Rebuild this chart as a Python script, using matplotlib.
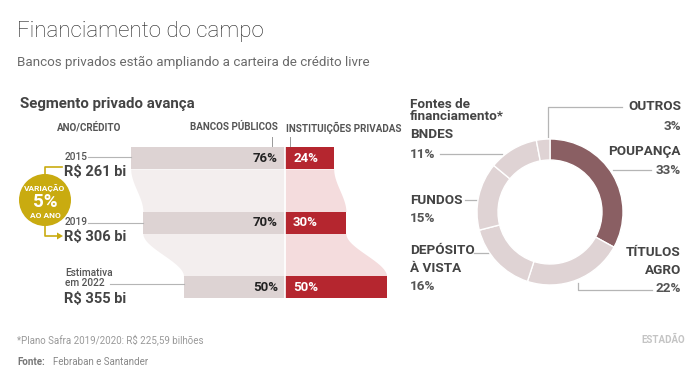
import numpy as np
import matplotlib
matplotlib.use("Agg")
import matplotlib.pyplot as plt
from matplotlib.patches import Circle, Polygon

plt.rcParams['font.family'] = ['Roboto', 'DejaVu Sans']

# data
years = ['2015', '2019', 'Estimativa\nem 2022']
credit = ['R$ 261 bi', 'R$ 306 bi', 'R$ 355 bi']
publicos = [76, 70, 50]
privados = [24, 30, 50]

fontes = ['POUPANÇA', 'TÍTULOS\nAGRO', 'DEPÓSITO\nÀ VISTA', 'FUNDOS', 'BNDES', 'OUTROS']
fontes_pct = [33, 22, 16, 15, 11, 3]

# colours
C_PUB = '#ddd3d3'
C_PUB_BAND = '#f3eeee'
C_PRIV = '#b5262f'
C_PRIV_BAND = '#f4dcdd'
C_DARK = '#8a5f63'
C_LIGHT = '#dfd3d4'
C_GOLD = '#c9ab10'
C_TXT = '#444444'
C_LINE = '#b5b5b5'

W, H = 700, 384
fig = plt.figure(figsize=(W / 100, H / 100), dpi=100)


def px_axes(x0, y0, x1, y1):
    return fig.add_axes([x0 / W, 1 - y1 / H, (x1 - x0) / W, (y1 - y0) / H])


# overlay in pixel coords for text/decoration
ov = px_axes(0, 0, W, H)
ov.set_xlim(0, W)
ov.set_ylim(H, 0)
ov.axis('off')

ov.text(17, 31, 'Financiamento do campo', fontsize=16, color='#222222',
        fontweight='light', va='center')
ov.text(17, 62, 'Bancos privados estão ampliando a carteira de crédito livre',
        fontsize=9.6, color='#6a6a6a', va='center')

# ---------- left panel: bars ----------
DIV, SCALE = 285, 2.03          # divider pixel, px per percent
ROW0, ROWSTEP = 158, 64.5
BX0, BX1, BY0, BY1 = 0, 400, 126, 320
ax = px_axes(BX0, BY0, BX1, BY1)
ax.set_xlim((BX0 - DIV) / SCALE, (BX1 - DIV) / SCALE)
ax.set_ylim((BY1 - ROW0) / ROWSTEP, (BY0 - ROW0) / ROWSTEP)
ax.axis('off')

h = 22 / ROWSTEP
ypos = np.arange(len(publicos))
pub = np.array(publicos, dtype=float)
priv = np.array(privados, dtype=float)

# connecting bands
for i in range(len(pub) - 1):
    yy = np.linspace(i + h / 2, i + 1 - h / 2, 80)
    t = (yy - yy[0]) / (yy[-1] - yy[0])
    s = t * t * (3 - 2 * t)
    xl = -(pub[i] + (pub[i + 1] - pub[i]) * s)
    xr = priv[i] + (priv[i + 1] - priv[i]) * s
    ax.fill_betweenx(yy, xl, 0, color=C_PUB_BAND, lw=0)
    ax.fill_betweenx(yy, 0, xr, color=C_PRIV_BAND, lw=0)

ax.barh(ypos, -pub, height=h, color=C_PUB, lw=0)
ax.barh(ypos, priv, height=h, color=C_PRIV, lw=0)
ax.axvline(0, color='white', lw=1.2)

for i in range(len(pub)):
    ax.text(-3.4, i, f'{publicos[i]}%', ha='right', va='center',
            fontsize=9.5, color='#222222', fontweight='bold')
    ax.text(4, i, f'{privados[i]}%', ha='left', va='center',
            fontsize=9.5, color='white', fontweight='bold')

# leader lines from labels to bars
starts = [88, 88, 110]
dy = [-0.02, 0.0, -0.05]
for i in range(len(pub)):
    ax.plot([(starts[i] - DIV) / SCALE, -pub[i]], [i + dy[i]] * 2,
            color=C_LINE, lw=0.8)

ov.text(20, 104, 'Segmento privado avança', fontsize=10.8, fontweight='bold',
        color=C_TXT, va='center')
hdr = dict(fontsize=7.1, fontweight='bold', color='#555555', va='center')
ov.text(57, 127, 'ANO/CRÉDITO', **hdr)
ov.text(278, 127, 'BANCOS PÚBLICOS', ha='right', **hdr)
ov.text(286, 128, 'INSTITUIÇÕES PRIVADAS', ha='left', **hdr)
ov.plot([272, 272], [137, 147], color='#999999', lw=0.7)
ov.plot([290, 290], [137, 147], color='#999999', lw=0.7)

year_y = [157, 222, 278]
cred_y = [172, 237, 299]
for i in range(len(years)):
    ov.text(65, year_y[i], years[i], fontsize=7.3, fontweight='medium',
            color='#555555', va='center', linespacing=1.05)
    ov.text(64, cred_y[i], credit[i], fontsize=10.5, fontweight='bold',
            color=C_TXT, va='center')

# gold badge
ov.add_patch(Circle((45, 200), 26, color=C_GOLD, lw=0))
ov.text(45, 188, 'VARIAÇÃO', ha='center', va='center', fontsize=6,
        fontweight='bold', color='white')
ov.text(45, 202, '5%', ha='center', va='center', fontsize=13.5,
        fontweight='bold', color='white')
ov.text(45, 215, 'AO ANO', ha='center', va='center', fontsize=6,
        fontweight='bold', color='white')
ov.plot([62, 45, 45], [167, 167, 175], color=C_GOLD, lw=1.2)
ov.plot([45, 45, 57], [225, 236, 236], color=C_GOLD, lw=1.2)
ov.add_patch(Polygon([[57, 232.5], [63, 236], [57, 239.5]], color=C_GOLD, lw=0))

# ---------- right panel: donut ----------
CX, CY, R = 550, 212, 73
pa = px_axes(CX - R, CY - R, CX + R, CY + R)
pa.pie(fontes_pct, radius=1, startangle=90, counterclock=False,
       colors=[C_DARK] + [C_LIGHT] * (len(fontes_pct) - 1),
       wedgeprops=dict(width=21 / R, edgecolor='white', linewidth=1))
pa.set_xlim(-1, 1)
pa.set_ylim(-1, 1)
pa.set_aspect('equal')
pa.axis('off')

lab = dict(fontsize=9.7, fontweight='bold', color=C_TXT, va='center')
pct = dict(fontsize=9.7, fontweight='bold', color='#555555', va='center')

ov.text(410, 104, 'Fontes de', **lab)
ov.text(410, 117, 'financiamento*', **lab)

# right-side labels
ov.text(681, 107, fontes[5], ha='right', **lab)
ov.text(681, 126, f'{fontes_pct[5]}%', ha='right', **pct)
ov.text(681, 152, fontes[0], ha='right', **lab)
ov.text(681, 170, f'{fontes_pct[0]}%', ha='right', **pct)
ov.text(681, 252, 'TÍTULOS', ha='right', **lab)
ov.text(681, 270, 'AGRO', ha='right', **lab)
ov.text(681, 289, f'{fontes_pct[1]}%', ha='right', **pct)

# left-side labels
ov.text(410, 135, fontes[4], ha='left', **lab)
ov.text(410, 154, f'{fontes_pct[4]}%', ha='left', **pct)
ov.text(410, 200, fontes[3], ha='left', **lab)
ov.text(410, 218, f'{fontes_pct[3]}%', ha='left', **pct)
ov.text(410, 251, 'DEPÓSITO', ha='left', **lab)
ov.text(410, 269, 'À VISTA', ha='left', **lab)
ov.text(410, 287, f'{fontes_pct[2]}%', ha='left', **pct)

ln = dict(color=C_LINE, lw=0.9)
ov.plot([548, 548, 622], [137, 107, 107], **ln)
ov.plot([613, 651], [170, 170], **ln)
ov.plot([578, 578, 652], [283, 290, 290], **ln)
ov.plot([440, 502], [154, 154], **ln)
ov.plot([465, 478], [200, 200], **ln)
ov.plot([474, 489, 489], [253, 253, 251], **ln)

# ---------- footer ----------
ov.text(17, 340, '*Plano Safra 2019/2020: R$ 225,59 bilhões', fontsize=7,
        color='#999999', va='center')
ov.text(17, 362, 'Fonte:', fontsize=7, fontweight='bold', color='#777777',
        va='center')
ov.text(53, 362, 'Febraban e Santander', fontsize=7, color='#888888',
        va='center')
ov.text(685, 340, 'ESTADÃO', fontsize=7, fontweight='bold', color='#c4c4c4',
        ha='right', va='center')

fig.savefig('out.png', dpi=100, facecolor='white')
